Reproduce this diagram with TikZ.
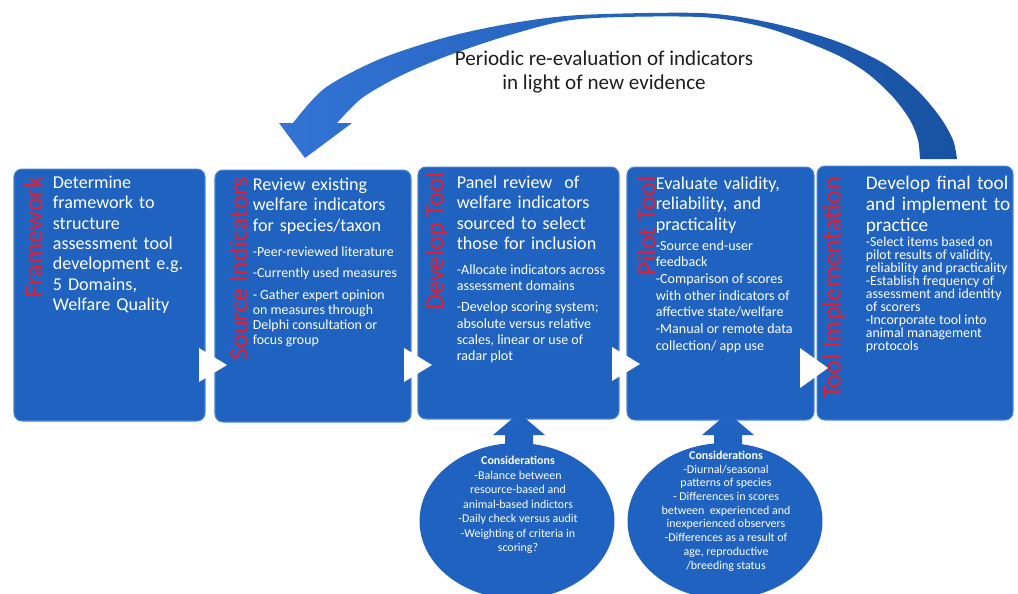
\documentclass[tikz,border=0pt]{standalone}
\usepackage{fontspec}
\setmainfont{Carlito}
\usetikzlibrary{calc,shapes.geometric}

\definecolor{boxblue}{RGB}{32,98,192}
\definecolor{boxedge}{RGB}{70,130,210}
\definecolor{arcleft}{RGB}{50,115,212}
\definecolor{arcright}{RGB}{24,82,162}
\definecolor{stagered}{RGB}{228,30,50}
\definecolor{darktext}{RGB}{30,30,30}

\setlength{\parindent}{0pt}
\newcommand\stagebig{\fontsize{10.3}{11.6}\selectfont}
\newcommand\itemfont[2]{\fontsize{#1}{#2}\selectfont\spaceskip=\fontdimen2\font\xspaceskip=\fontdimen2\font\relax}

\begin{document}
\begin{tikzpicture}[x=0.02cm, y=-0.02cm,
  stage/.style={fill=boxblue, draw=boxedge, line width=0.6pt, rounded corners=0.16cm, inner sep=0pt},
  stagename/.style={text=stagered, font=\fontsize{15}{15}\selectfont, rotate=90, anchor=base east, inner sep=0pt},
  stagetext/.style={text=white, anchor=north west, inner sep=0pt, text width=4.2cm, align=left, font=\stagebig},
  consider/.style={ellipse, fill=boxblue, minimum width=3.9cm, minimum height=3.12cm, inner sep=0pt},
  considertext/.style={text=white, align=center, font=\fontsize{6.8}{7.8}\selectfont, inner sep=0pt}]

\useasboundingbox (0,0) rectangle (1018,593);

% periodic re-evaluation arrow
\shade[left color=arcleft, right color=arcright]
  plot[smooth] coordinates {(920,159) (918,140) (910,120) (893,97) (867,73) (833,53) (767,28) (700,17) (580,19) (513,34) (447,56) (400,76) (362,98) (337,123)}
  -- (352,123) -- (305,158) -- (279,123) -- (293,123)
  -- plot[smooth] coordinates {(293,123) (325,88) (380,59) (447,37) (513,23) (580,15) (700,13) (767,22) (833,40) (883,63) (917,90) (940,117) (953,140) (957,159)}
  -- cycle;

\node[font=\fontsize{12}{14.2}\selectfont, text=darktext, align=center] (note) at (604,72)
  {Periodic re-evaluation of indicators\\in light of new evidence};

% stage boxes
\node[stage, minimum width=3.82cm, minimum height=5.04cm] (b1) at (109.5,295) {};
\node[stage, minimum width=3.92cm, minimum height=5.04cm] (b2) at (313,296) {};
\node[stage, minimum width=4.02cm, minimum height=5.04cm] (b3) at (518.5,293) {};
\node[stage, minimum width=3.74cm, minimum height=5.06cm] (b4) at (720.5,293.5) {};
\node[stage, minimum width=3.92cm, minimum height=5.08cm] (b5) at (915,293) {};

% white chevrons between boxes
\foreach \a/\b/\y/\h in {199/227/365/17, 404/432/365/17, 612/640/364/17, 800/828/368/20}
  \fill[white] (\a,\y-\h) -- (\b,\y) -- (\a,\y+\h) -- cycle;

% stage names
\node[stagename] (n1) at ($(b1.north west)+(29,8)$) {Framework};
\node[stagename] (n2) at ($(b2.north west)+(33,7)$) {Source Indicators};
\node[stagename] (n3) at ($(b3.north west)+(26,6)$) {Develop Tool};
\node[stagename] (n4) at ($(b4.north west)+(29,10)$) {Pilot Tool};
\node[stagename] (n5) at ($(b5.north west)+(24,11)$) {Tool Implementation};

% stage texts
\node[stagetext] (t1) at ($(b1.north west)+(39,7)$)
  {Determine\\framework to\\structure\\assessment tool\\development e.g.\\5 Domains,\\Welfare Quality};
\node[stagetext] (t2) at ($(b2.north west)+(38,8)$)
  {Review existing\\welfare indicators\\for species/taxon\par
   \itemfont{7.9}{8.6}\vspace{5.6pt}-Peer-reviewed literature\par
   \vspace{3.8pt}-Currently used measures\par
   \vspace{3.8pt}- Gather expert opinion\\on measures through\\Delphi consultation or\\focus group\par};
\node[stagetext] (t3) at ($(b3.north west)+(39,9)$)
  {Panel review~ of\\welfare indicators\\sourced to select\\those for inclusion\par
   \itemfont{8}{9.3}\vspace{4.9pt}-Allocate indicators across\\assessment domains\par
   \vspace{2.7pt}-Develop scoring system;\\absolute versus relative\\scales, linear or use of\\radar plot\par};
\node[stagetext] (t4) at ($(b4.north west)+(29,10)$)
  {Evaluate validity,\\reliability, and\\practicality\par
   \itemfont{8}{9.5}\vspace{1.9pt}-Source end-user\\feedback\\-Comparison of scores\\with other indicators of\\affective state/welfare\\-Manual or remote data\\collection/ app use\par};
\node[stagetext, font=\fontsize{11}{12}\selectfont] (t5) at ($(b5.north west)+(49,10)$)
  {Develop final tool\\and implement to\\practice\par
   \itemfont{7.9}{7.4}\vspace{1pt}-Select items based on\\pilot results of validity,\\reliability and practicality\\-Establish frequency of\\assessment and identity\\of scorers\\-Incorporate tool into\\animal management\\protocols\par};

% considerations arrows
\foreach \x in {519,728}
  \fill[boxblue] (\x-14,455) -- (\x-14,435) -- (\x-26,435) -- (\x,413) -- (\x+26,435) -- (\x+14,435) -- (\x+14,455) -- cycle;

% considerations
\node[consider] (c1) at (517,521) {};
\node[consider] (c2) at (725,521) {};
\node[considertext, font=\fontsize{6.8}{8.2}\selectfont] (k1) at (518,505)
  {\textbf{Considerations}\\-Balance between\\resource-based and\\animal-based indictors\\-Daily check versus audit\\-Weighting of criteria in\\scoring?};
\node[considertext] (k2) at (726,511)
  {\textbf{Considerations}\\-Diurnal/seasonal\\patterns of species\\- Differences in scores\\between~ experienced and\\inexperienced observers\\-Differences as a result of\\age, reproductive\\/breeding status};

\end{tikzpicture}
\end{document}
